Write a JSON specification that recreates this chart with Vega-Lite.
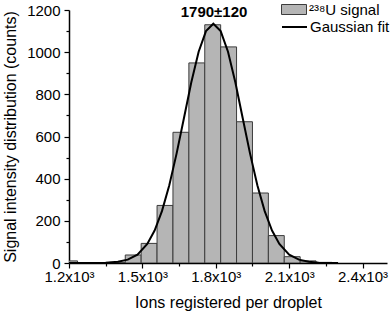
{
  "$schema": "https://vega.github.io/schema/vega-lite/v6.json",
  "width": 318,
  "height": 253,
  "autosize": "none",
  "padding": {"left": 69, "top": 10, "right": 5, "bottom": 56},
  "background": "white",
  "config": {
    "view": {"stroke": null},
    "font": "Liberation Sans",
    "axis": {
      "grid": false,
      "domainColor": "black",
      "domainWidth": 1.5,
      "tickColor": "black",
      "tickWidth": 1.2,
      "labelColor": "black",
      "titleColor": "black",
      "labelFont": "Liberation Sans",
      "titleFont": "Liberation Sans",
      "labelFontSize": 15,
      "titleFontSize": 16,
      "titleFontWeight": "normal"
    },
    "legend": {
      "labelFont": "Liberation Sans",
      "labelFontSize": 15,
      "labelColor": "black",
      "padding": 0,
      "labelOffset": 2
    }
  },
  "datasets": {
    "bins": [
      {"start": 1170, "end": 1235, "count": 10},
      {"start": 1235, "end": 1300, "count": 1},
      {"start": 1300, "end": 1365, "count": 2},
      {"start": 1365, "end": 1430, "count": 3},
      {"start": 1430, "end": 1495, "count": 38},
      {"start": 1495, "end": 1560, "count": 93},
      {"start": 1560, "end": 1625, "count": 273},
      {"start": 1625, "end": 1690, "count": 620},
      {"start": 1690, "end": 1755, "count": 949},
      {"start": 1755, "end": 1820, "count": 1130},
      {"start": 1820, "end": 1885, "count": 1025},
      {"start": 1885, "end": 1950, "count": 670},
      {"start": 1950, "end": 2015, "count": 332},
      {"start": 2015, "end": 2080, "count": 130},
      {"start": 2080, "end": 2145, "count": 30},
      {"start": 2145, "end": 2210, "count": 10},
      {"start": 2210, "end": 2275, "count": 3}
    ],
    "fit": [
      {"ions": 1200, "value": 0},
      {"ions": 1250, "value": 0.05},
      {"ions": 1300, "value": 0.3},
      {"ions": 1350, "value": 1.4},
      {"ions": 1400, "value": 5.8},
      {"ions": 1440, "value": 16},
      {"ions": 1480, "value": 40},
      {"ions": 1520, "value": 90},
      {"ions": 1550, "value": 154},
      {"ions": 1580, "value": 246},
      {"ions": 1610, "value": 369},
      {"ions": 1640, "value": 520},
      {"ions": 1670, "value": 688},
      {"ions": 1700, "value": 857},
      {"ions": 1730, "value": 1002},
      {"ions": 1760, "value": 1100},
      {"ions": 1790, "value": 1135},
      {"ions": 1820, "value": 1100},
      {"ions": 1850, "value": 1002},
      {"ions": 1880, "value": 857},
      {"ions": 1910, "value": 688},
      {"ions": 1940, "value": 520},
      {"ions": 1970, "value": 369},
      {"ions": 2000, "value": 246},
      {"ions": 2030, "value": 154},
      {"ions": 2060, "value": 90},
      {"ions": 2100, "value": 40},
      {"ions": 2140, "value": 16},
      {"ions": 2180, "value": 5.8},
      {"ions": 2220, "value": 1.4},
      {"ions": 2260, "value": 0.3},
      {"ions": 2300, "value": 0.05}
    ],
    "note": [
      {"label": "1790±120", "ions": 1793, "value": 1168}
    ]
  },
  "layer": [
    {
      "data": {"name": "bins"},
      "mark": {"type": "rect", "stroke": "#3c3c3c", "strokeWidth": 1, "clip": true},
      "encoding": {
        "x": {
          "field": "start", "type": "quantitative",
          "scale": {"domain": [1200, 2500], "nice": false, "zero": false},
          "axis": {
            "orient": "bottom",
            "values": [1200, 1500, 1800, 2100, 2400],
            "labelExpr": "format(datum.value/1000, '.1f') + 'x10³'",
            "title": "Ions registered per droplet",
            "tickSize": 5,
            "labelPadding": 1,
            "titlePadding": 10,
            "labelFlush": false,
            "labelOverlap": false
          }
        },
        "x2": {"field": "end"},
        "y": {
          "field": "count", "type": "quantitative",
          "scale": {"domain": [0, 1200], "nice": false},
          "axis": {
            "orient": "left",
            "values": [0, 200, 400, 600, 800, 1000, 1200],
            "format": "d",
            "title": "Signal intensity distribution (counts)",
            "tickSize": 5,
            "labelPadding": 4,
            "titlePadding": 8,
            "labelFlush": false,
            "labelOverlap": false
          }
        },
        "y2": {"datum": 0},
        "fill": {
          "datum": "²³⁸U signal",
          "type": "nominal",
          "scale": {"range": ["#b5b5b5"]},
          "legend": {
            "title": null,
            "orient": "none",
            "legendX": 212,
            "legendY": -13.5,
            "symbolType": "M-1,-0.4H1V0.4H-1Z",
            "symbolSize": 625,
            "symbolStrokeColor": "#3c3c3c",
            "symbolStrokeWidth": 1,
            "symbolFillColor": "#b5b5b5"
          }
        }
      }
    },
    {
      "data": {"name": "fit"},
      "mark": {"type": "line", "strokeWidth": 2, "clip": true},
      "encoding": {
        "x": {
          "field": "ions", "type": "quantitative",
          "axis": {
            "orient": "bottom",
            "values": [1350, 1650, 1950, 2250],
            "labels": false, "domain": false, "tickSize": 3, "title": null
          }
        },
        "y": {
          "field": "value", "type": "quantitative",
          "axis": {
            "orient": "left",
            "values": [100, 300, 500, 700, 900, 1100],
            "labels": false, "domain": false, "tickSize": 3, "title": null
          }
        },
        "stroke": {
          "datum": "Gaussian fit",
          "type": "nominal",
          "scale": {"range": ["black"]},
          "legend": {
            "title": null,
            "orient": "none",
            "legendX": 212,
            "legendY": 3.5,
            "symbolType": "stroke",
            "symbolSize": 625,
            "symbolStrokeWidth": 2,
            "symbolStrokeColor": "black"
          }
        }
      }
    },
    {
      "data": {"name": "note"},
      "mark": {"type": "text", "fontWeight": "bold", "fontSize": 15, "font": "Liberation Sans", "align": "center", "baseline": "alphabetic", "color": "black"},
      "encoding": {
        "x": {"field": "ions", "type": "quantitative", "axis": null},
        "y": {"field": "value", "type": "quantitative", "axis": null},
        "text": {"field": "label"}
      }
    }
  ],
  "resolve": {"axis": {"x": "independent", "y": "independent"}}
}
